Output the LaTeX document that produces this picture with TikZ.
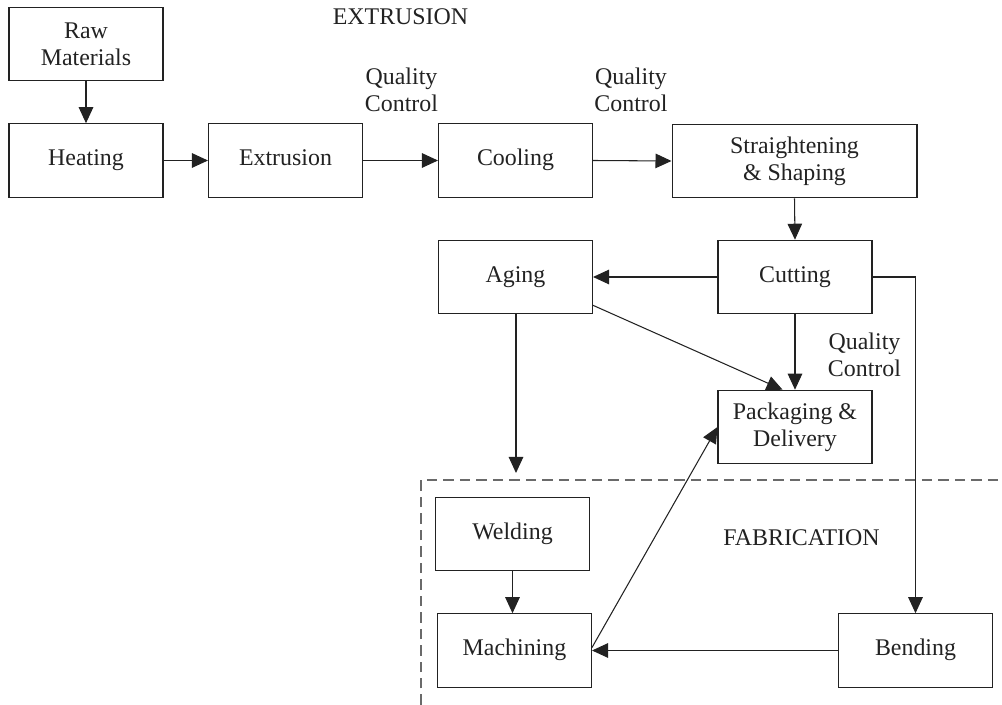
\documentclass[tikz,border=0pt]{standalone}
\usepackage{fontspec}
\setmainfont{Liberation Serif}
\usetikzlibrary{arrows.meta,calc}
\definecolor{ink}{HTML}{222222}
\definecolor{dashgray}{HTML}{6A6A6A}
\tikzset{
  box/.style={draw=ink, line width=0.6pt, minimum width=3.08cm, minimum height=1.47cm,
    inner sep=2pt, align=center, text=ink, font=\fontsize{13.6pt}{15.4pt}\selectfont},
  oneline/.style={text height=0.75em, text depth=0.15em},
  lbl/.style={align=center, inner sep=0pt, text=ink, font=\fontsize{13.6pt}{15.4pt}\selectfont},
  flow/.style={draw=ink, line width=0.6pt, -{Triangle[length=0.32cm, width=0.29cm]}},
  region/.style={draw=dashgray, line width=0.65pt, dash pattern=on 0.21cm off 0.12cm}
}
\begin{document}
\begin{tikzpicture}[x=0.02cm, y=-0.02cm]
\useasboundingbox (0,0) rectangle (1002,705);
% nodes
\node[box] (raw) at (86,44) {Raw\\Materials};
\node[box, oneline] (heat) at (86,160.5) {Heating};
\node[box, oneline] (extr) at (285.5,160.5) {Extrusion};
\node[box, oneline] (cool) at (515.5,160.5) {Cooling};
\node[box, minimum width=4.9cm] (str) at (794.5,161) {Straightening\\\& Shaping};
\node[box, oneline] (cut) at (795,277) {Cutting};
\node[box, oneline] (aging) at (515.5,277) {Aging};
\node[box] (pack) at (795,427) {Packaging \&\\Delivery};
\node[box, oneline] (weld) at (512.5,534) {Welding};
\node[box, oneline] (mach) at (514.5,650.5) {Machining};
\node[box, oneline] (bend) at (915.5,650.5) {Bending};
% labels
\node[lbl] (extlbl) at (400.5,17) {EXTRUSION};
\node[lbl] (qc1) at (401.5,90) {Quality\\Control};
\node[lbl] (qc2) at (631,90) {Quality\\Control};
\node[lbl] (qc3) at (864.5,355) {Quality\\Control};
\node[lbl] (fablbl) at (801.5,538) {FABRICATION};
% fabrication region
\coordinate (fbl) at (421,705);
\coordinate (ftl) at (421,480);
\coordinate (ftr) at (1002,480);
\draw[region] (fbl) -- (ftl) -- (ftr);
% connectors
\draw[flow] (raw.south) -- (heat.north);
\draw[flow] (heat.east) -- (extr.west);
\draw[flow] (extr.east) -- (cool.west);
\draw[flow] (cool.east) -- (str.west);
\draw[flow] (str.south) -- (cut.north);
\draw[flow] (cut.west) -- (aging.east);
\draw[flow] (cut.south) -- (pack.north);
\draw[flow] ($(aging.south east)!0.12!(aging.north east)$) -- ($(pack.north west)!0.42!(pack.north east)$);
\coordinate (agend) at (516,473);
\draw[flow] (aging.south -| agend) -- (agend);
\draw[flow] (cut.east) -| (bend.north);
\draw[flow] (bend.west) -- (mach.east);
\draw[flow] (weld.south) -- (weld.south |- mach.north);
\draw[flow] ($(mach.east)+(0,-3)$) -- (pack.west);
\end{tikzpicture}
\end{document}
